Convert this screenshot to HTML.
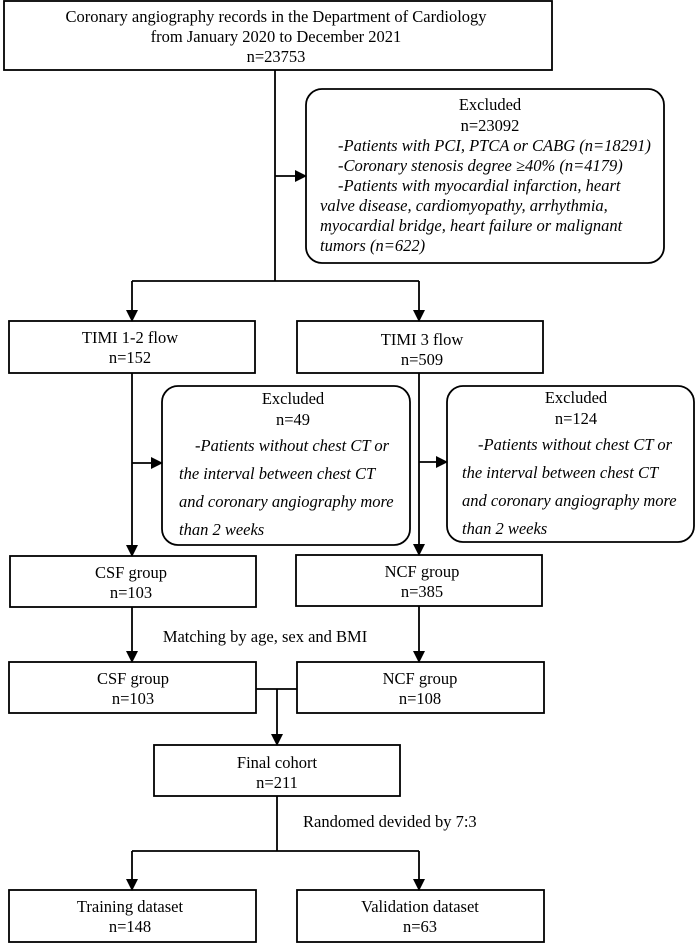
<!DOCTYPE html>
<html><head><meta charset="utf-8"><style>
html,body{margin:0;padding:0;background:#fff}
svg{display:block}
text{font-family:"Liberation Serif",serif;font-size:16.5px;fill:#000}
.i{font-style:italic}
</style></head><body>
<svg width="696" height="945" viewBox="0 0 696 945">
<defs><marker id="a" markerWidth="12" markerHeight="12" refX="11" refY="6" orient="auto" markerUnits="userSpaceOnUse"><path d="M0,0 L12,6 L0,12 z" fill="#000"/></marker></defs>
<g fill="none" stroke="#000" stroke-width="1.8">
<rect x="4" y="1" width="548" height="69"/>
<rect x="306" y="89" width="358" height="174" rx="16"/>
<rect x="9" y="321" width="246" height="52"/>
<rect x="297" y="321" width="246" height="52"/>
<rect x="162" y="386" width="248" height="159" rx="16"/>
<rect x="447" y="386" width="247" height="156" rx="16"/>
<rect x="10" y="556" width="246" height="51"/>
<rect x="296" y="555" width="246" height="51"/>
<rect x="9" y="662" width="247" height="51"/>
<rect x="297" y="662" width="247" height="51"/>
<rect x="154" y="745" width="246" height="51"/>
<rect x="9" y="890" width="247" height="52"/>
<rect x="297" y="890" width="247" height="52"/>
<path d="M275,70 V281"/>
<path d="M275,176 H306" marker-end="url(#a)"/>
<path d="M132,281 H419"/>
<path d="M132,281 V321" marker-end="url(#a)"/>
<path d="M419,281 V321" marker-end="url(#a)"/>
<path d="M132,373 V556" marker-end="url(#a)"/>
<path d="M132,463 H162" marker-end="url(#a)"/>
<path d="M419,373 V555" marker-end="url(#a)"/>
<path d="M419,462 H447" marker-end="url(#a)"/>
<path d="M132,607 V662" marker-end="url(#a)"/>
<path d="M419,606 V662" marker-end="url(#a)"/>
<path d="M256,689 H297"/>
<path d="M277,689 V745" marker-end="url(#a)"/>
<path d="M277,796 V851"/>
<path d="M132,851 H419"/>
<path d="M132,851 V890" marker-end="url(#a)"/>
<path d="M419,851 V890" marker-end="url(#a)"/>
</g>
<g text-anchor="middle">
<text x="276" y="22">Coronary angiography records in the Department of Cardiology</text>
<text x="276" y="42">from January 2020 to December 2021</text>
<text x="276" y="62">n=23753</text>
<text x="490" y="110">Excluded</text>
<text x="490" y="131">n=23092</text>
<text x="130" y="343">TIMI 1-2 flow</text>
<text x="130" y="363">n=152</text>
<text x="422" y="345">TIMI 3 flow</text>
<text x="422" y="365">n=509</text>
<text x="293" y="404">Excluded</text>
<text x="293" y="425">n=49</text>
<text x="576" y="403">Excluded</text>
<text x="576" y="424">n=124</text>
<text x="131" y="578">CSF group</text>
<text x="131" y="598">n=103</text>
<text x="422" y="577">NCF group</text>
<text x="422" y="597">n=385</text>
<text x="133" y="684">CSF group</text>
<text x="133" y="704">n=103</text>
<text x="420" y="684">NCF group</text>
<text x="420" y="704">n=108</text>
<text x="277" y="768">Final cohort</text>
<text x="277" y="788">n=211</text>
<text x="130" y="912">Training dataset</text>
<text x="130" y="932">n=148</text>
<text x="420" y="912">Validation dataset</text>
<text x="420" y="932">n=63</text>
<text x="265" y="642">Matching by age, sex and BMI</text>
</g>
<text x="303" y="827">Randomed devided by 7:3</text>
<g class="i">
<text class="i" x="338" y="151">-Patients with PCI, PTCA or CABG (n=18291)</text>
<text class="i" x="338" y="171">-Coronary stenosis degree ≥40% (n=4179)</text>
<text class="i" x="338" y="191">-Patients with myocardial infarction, heart</text>
<text class="i" x="320" y="211">valve disease, cardiomyopathy, arrhythmia,</text>
<text class="i" x="320" y="231">myocardial bridge, heart failure or malignant</text>
<text class="i" x="320" y="251">tumors (n=622)</text>
<text class="i" x="195" y="451">-Patients without chest CT or</text>
<text class="i" x="179" y="479">the interval between chest CT</text>
<text class="i" x="179" y="507">and coronary angiography more</text>
<text class="i" x="179" y="535">than 2 weeks</text>
<text class="i" x="478" y="450">-Patients without chest CT or</text>
<text class="i" x="462" y="478">the interval between chest CT</text>
<text class="i" x="462" y="506">and coronary angiography more</text>
<text class="i" x="462" y="534">than 2 weeks</text>
</g>
</svg>
</body></html>
